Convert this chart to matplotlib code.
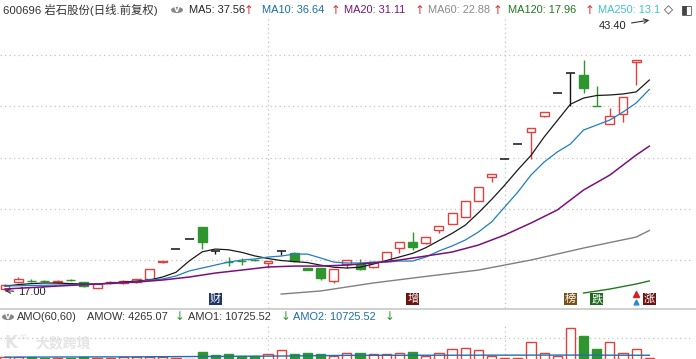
import matplotlib
matplotlib.use('Agg')
import matplotlib.pyplot as plt
import matplotlib.transforms as mtransforms
from matplotlib.lines import Line2D
from matplotlib.patches import Circle

W, H = 696, 359

# ---------------- data ----------------
opens = [17.17, 17.85, 17.98, 17.98, 17.85, 18.07, 17.85, 17.30, 17.75, 17.75,
         17.85, 18.12, 19.85, 21.07, 22.05, 23.22, 20.88, 19.85, 19.93, 20.03,
         19.71, 20.88, 20.68, 19.20, 19.22, 17.95, 19.61, 19.61, 19.32, 19.90,
         21.17, 21.76, 21.66, 22.93, 23.51, 24.20, 25.76, 28.10, 29.85, 31.32,
         32.49, 34.05, 36.29, 38.24, 38.05, 35.05, 33.27, 34.24, 39.30]
highs = [17.66, 18.34, 18.15, 18.10, 18.05, 18.15, 17.90, 17.70, 17.95, 18.05,
         18.18, 19.15, 19.90, 21.07, 22.05, 23.22, 20.88, 20.29, 20.20, 20.10,
         19.92, 20.88, 20.78, 19.22, 19.25, 19.15, 20.05, 20.10, 19.85, 20.80,
         21.80, 22.73, 22.28, 23.35, 24.62, 25.80, 27.15, 28.42, 29.85, 31.32,
         32.92, 34.47, 36.29, 38.24, 39.51, 36.98, 34.83, 35.95, 39.55]
lows = [17.00, 17.80, 17.85, 17.85, 17.80, 17.95, 17.35, 17.25, 17.70, 17.70,
        17.80, 18.10, 19.70, 21.07, 22.05, 21.07, 20.58, 19.41, 19.51, 19.90,
        19.22, 20.49, 19.85, 19.00, 18.05, 17.76, 19.22, 19.05, 19.22, 19.85,
        20.68, 20.97, 21.60, 22.63, 23.48, 24.15, 25.72, 27.61, 29.85, 31.32,
        29.85, 33.95, 36.29, 35.02, 36.29, 35.02, 33.25, 33.46, 37.07]
closes = [17.56, 18.15, 17.93, 17.92, 18.00, 18.02, 17.50, 17.66, 17.90, 18.00,
          18.12, 19.12, 19.90, 21.07, 22.05, 21.76, 20.88, 19.78, 19.88, 19.98,
          19.90, 20.88, 19.90, 19.05, 18.24, 19.12, 20.00, 19.12, 19.80, 20.78,
          21.76, 21.27, 22.24, 23.32, 24.59, 25.76, 27.12, 28.39, 29.85, 31.32,
          32.88, 34.44, 36.29, 38.24, 36.78, 35.02, 34.05, 35.90, 39.51]

ma5 = [17.46, 17.60, 17.70, 17.76, 17.75, 17.70, 17.66, 17.66, 17.75, 17.85,
       17.95, 18.05, 18.35, 18.80, 19.90, 20.80, 21.07, 21.00, 20.75, 20.40,
       20.15, 19.95, 19.85, 19.75, 19.50, 19.30, 19.22, 19.30, 19.60, 19.95,
       20.30, 20.65, 21.20, 21.90, 22.60, 23.40, 24.60, 25.90, 27.30, 28.80,
       30.20, 32.00, 33.60, 35.20, 35.80, 36.05, 36.10, 36.20, 36.40, 37.56]
ma10 = [17.46, 17.49, 17.52, 17.54, 17.56, 17.60, 17.63, 17.66, 17.72, 17.78,
        17.85, 18.05, 18.15, 18.44, 18.93, 19.22, 19.51, 19.80, 20.00, 20.10,
        20.29, 20.39, 20.58, 20.58, 20.20, 19.80, 19.71, 19.71, 19.80, 19.80,
        19.90, 19.90, 20.29, 20.88, 21.37, 21.95, 22.73, 23.71, 25.17, 26.63,
        28.29, 29.56, 30.54, 31.32, 32.68, 33.17, 33.66, 34.44, 35.32, 36.64]
ma20_idx = [0, 4, 7, 10, 12, 14, 16, 18, 20, 22, 24, 26, 28, 30, 32, 34, 36,
            38, 40, 42, 44, 46, 48, 49]
ma20 = [17.17, 17.46, 17.66, 17.85, 18.05, 18.34, 18.73, 19.02, 19.32, 19.41,
        19.41, 19.51, 19.71, 20.00, 20.39, 20.78, 21.46, 22.44, 23.61, 24.88,
        26.83, 28.29, 30.24, 31.11]
ma60_idx = [21, 24, 28, 32, 36, 40, 44, 48, 49]
ma60 = [16.68, 16.98, 17.76, 18.40, 19.02, 20.00, 21.17, 22.24, 22.88]
ma120_idx = [44, 46, 48, 49]
ma120 = [16.78, 17.17, 17.66, 17.96]

amount = [6800, 6800, 6800, 4500, 4500, 4500, 5700, 4500, 4500, 5700,
          6800, 6800, 5700, 4500, 3400, 18200, 11400, 13600, 10200, 10200,
          13600, 22700, 13600, 14800, 13600, 10200, 14800, 15900, 13600, 13600,
          15900, 18200, 9100, 15900, 25000, 27300, 22700, 9100, 4500, 4500,
          40900, 15900, 9100, 72700, 54500, 25000, 42000, 15900, 25000, 4265]
amount_up = [1, 1, 0, 0, 1, 0, 0, 1, 1, 1, 1, 1, 1, 1, 1, 0, 0, 0, 0, 0,
             1, 1, 0, 0, 0, 1, 1, 0, 1, 1, 1, 0, 1, 1, 1, 1, 1, 1, 1, 1,
             1, 1, 1, 1, 0, 0, 1, 1, 1, 1]
amo_idx = [0, 10, 20, 26, 34, 43, 49]
amo = [6500, 7200, 8800, 10500, 10900, 11200, 10725]

price_grid = [20, 25, 30, 35, 40]
month_lines = [20, 38]
events = [(16, '财', '#1c3466'), (31, '增', '#6e1212'), (43, '榜', '#7a5016'),
          (45, '跌', '#1e6b1e'), (49, '涨', '#6e1212')]
max_price, max_idx = 43.40, 49
min_price, min_idx = 17.00, 0

RED = '#e2403c'
GREEN = '#2f962f'
GRID = '#c2c2c2'

# ---------------- figure ----------------
fig = plt.figure(figsize=(W / 100, H / 100), dpi=100)
fig.patch.set_facecolor('white')


def fy(py):
    return 1 - py / H


ax = fig.add_axes([0, fy(308), 1, (308 - 18) / H])
ax2 = fig.add_axes([0, 0, 1, (359 - 325) / H])
for a in (ax, ax2):
    a.set_xlim(-0.38, 52.55)
    a.axis('off')
ax.set_ylim(15.32, 43.61)
ax2.set_ylim(2273, 79555)

for v in price_grid:
    ax.axhline(v, xmax=0.992, color=GRID, lw=0.9, ls=(0, (1, 2.6)), zorder=0)
ax2.axhline(50000, xmax=0.992, color=GRID, lw=0.9, ls=(0, (1, 2.6)), zorder=0)
for m in month_lines:
    ax.axvline(m, color=GRID, lw=0.9, ls=(0, (1, 2.6)), zorder=0)
    ax2.axvline(m, color=GRID, lw=0.9, ls=(0, (1, 2.6)), zorder=0)

fig.add_artist(Line2D([0, 1], [fy(308.5), fy(308.5)], color='#c8c8c8', lw=1.2,
                      transform=fig.transFigure))

# candles
bw = 0.68
for i, (o, h, l, c) in enumerate(zip(opens, highs, lows, closes)):
    if c > o:
        col, face = RED, 'white'
    elif c < o:
        col, face = GREEN, GREEN
    else:
        col, face = '#111111', None
    ax.vlines(i, l, h, color=col, lw=1, zorder=2)
    if c == o:
        ax.hlines(o, i - bw / 2, i + bw / 2, color=col, lw=1.1, zorder=3)
    else:
        ax.bar(i, abs(c - o), bottom=min(o, c), width=bw, facecolor=face,
               edgecolor=col, lw=1, zorder=3)

# moving averages
ax.plot(range(len(ma5)), ma5, color='#1a1a1a', lw=0.9, zorder=4)
ax.plot(range(len(ma10)), ma10, color='#1f7fbf', lw=0.9, zorder=4)
ax.plot(ma20_idx, ma20, color='#7d0f7d', lw=1.1, zorder=4)
ax.plot(ma60_idx, ma60, color='#808080', lw=1.0, zorder=4)
ax.plot(ma120_idx, ma120, color='#1f7a1f', lw=1.0, zorder=4)

# max / min annotations
ax.annotate(f'{max_price:.2f}', xy=(max_idx, max_price), xytext=(626, H - 26),
            textcoords='figure pixels', ha='right', va='center', fontsize=8.0,
            family='Liberation Sans', color='#222222',
            arrowprops=dict(arrowstyle='->', color='#333333', lw=0.8,
                            shrinkA=2, shrinkB=0))
ax.annotate(f'{min_price:.2f}', xy=(min_idx, min_price), xytext=(18, H - 292),
            textcoords='figure pixels', ha='left', va='center', fontsize=8.0,
            family='Liberation Sans', color='#222222',
            arrowprops=dict(arrowstyle='->', color='#333333', lw=0.8,
                            shrinkA=1, shrinkB=0))

# event labels
btr = mtransforms.blended_transform_factory(ax.transData, ax.transAxes)
for k, ch, bg in events:
    ax.text(k, 0.031, ch, transform=btr, ha='center', va='center', fontsize=8,
            color='white', family=['Noto Sans CJK SC', 'DejaVu Sans'],
            bbox=dict(boxstyle='square,pad=0.08', fc=bg, ec='none'), zorder=6)
ax.plot([48], [0.048], transform=btr, marker='^', ms=4, color='#d42020', zorder=6)
ax.plot([48], [0.020], transform=btr, marker='^', ms=3.5, color='#2a8ad8', zorder=6)

# amount bars
for i, (v, up) in enumerate(zip(amount, amount_up)):
    if up:
        ax2.bar(i, v, width=0.7, facecolor='white', edgecolor=RED, lw=1, zorder=3)
    else:
        ax2.bar(i, v, width=0.7, facecolor=GREEN, edgecolor=GREEN, lw=1, zorder=3)
ax2.plot(amo_idx, amo, color='#1f6fb0', lw=1.0, zorder=4)

# ---------------- header texts ----------------
FAM = ['Liberation Sans', 'Noto Sans CJK SC', 'DejaVu Sans']
FS = 7.9


def t(x, y, s, color='#333333', fs=FS, fam=FAM, **kw):
    fig.text(x / W, fy(y), s, color=color, fontsize=fs, family=fam,
             va='center', ha='left', **kw)


t(3, 10, '600696 岩石股份(日线.前复权)', color='#333333', fs=8.2)
fig.add_artist(Circle((177 / W, fy(10)), 6 / W, transform=fig.transFigure,
                      fc='#888888', ec='none'))
t(173.5, 9.5, 'v', color='white', fs=6.5, fam='DejaVu Sans', weight='bold')
hdr = [(189, 'MA5: 37.56', '#222222', 246), (262, 'MA10: 36.64', '#1a6cb0', 333),
       (344, 'MA20: 31.11', '#7a157a', 417), (428, 'MA60: 22.88', '#8a8a8a', 495),
       (508, 'MA120: 17.96', '#1f7a1f', 587), (598, 'MA250: 13.1', '#3cc4c8', None)]
for x, s, c, ax_ in hdr:
    t(x, 10, s, color=c)
    if ax_ is not None:
        t(ax_ - 2, 10, '↑', color='#e03030', fs=8.5, fam='DejaVu Sans')
t(664, 10, '◇', color='#333333', fs=8.5, fam='DejaVu Sans')
t(681, 10, '◧', color='#444444', fs=9, fam='DejaVu Sans')

fig.add_artist(Circle((8 / W, fy(317)), 6 / W, transform=fig.transFigure,
                      fc='#888888', ec='none'))
t(4.5, 316.5, 'v', color='white', fs=6.5, fam='DejaVu Sans', weight='bold')
t(17, 317, 'AMO(60,60)', color='#333333')
t(87, 317, 'AMOW: 4265.07', color='#333333')
t(175, 317, '↓', color='#2f962f', fs=8.5, fam='DejaVu Sans')
t(188, 317, 'AMO1: 10725.52', color='#333333')
t(281, 317, '↓', color='#2f962f', fs=8.5, fam='DejaVu Sans')
t(293, 317, 'AMO2: 10725.52', color='#1a6cb0')
t(385, 317, '↓', color='#2f962f', fs=8.5, fam='DejaVu Sans')

# watermark
t(4, 343, 'K', color='#e4e4e4', fs=12, fam='DejaVu Sans', weight='bold')
t(19, 337, '∞', color='#e4e4e4', fs=8, fam='DejaVu Sans')
t(35, 343, '大数跨境', color='#e4e4e4', fs=10, fam=['Noto Sans CJK SC'],
  weight='bold')

fig.savefig('out.png', dpi=100, facecolor='white')
